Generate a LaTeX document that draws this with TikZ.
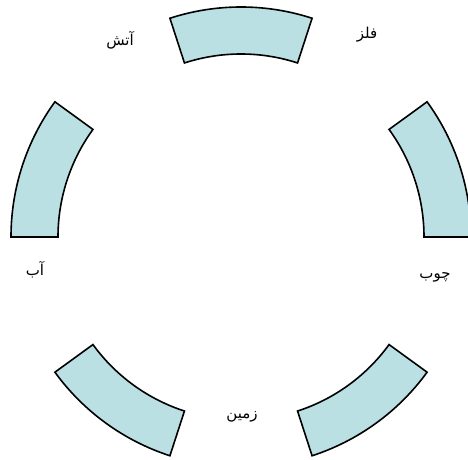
\documentclass[tikz,border=0pt]{standalone}
\usepackage{fontspec}
\newfontfamily\arabicfont[Script=Arabic]{DejaVu Sans}
\TeXXeTstate=1
\definecolor{segfill}{RGB}{187,224,227}
\tikzset{
  seg/.style={draw=black, fill=segfill, line width=1.6pt, line join=miter},
  lbl/.style={font=\arabicfont\fontsize{15}{17}\selectfont, inner sep=0pt}
}
\begin{document}
\begin{tikzpicture}[x=1pt,y=1pt]
\useasboundingbox (0,0) rectangle (468,459);
\clip (0,0) rectangle (468,459);
\begin{scope}[shift={(241,222)}]
\foreach \a in {0,72,144,216,288}{
  \pgfmathsetmacro{\b}{\a+36}
  \path[seg] (\a:230) arc[start angle=\a, end angle=\b, radius=230]
    -- (\b:183) arc[start angle=\b, end angle=\a, radius=183] -- cycle;
}
\end{scope}
\node[lbl] (felez) at (367,424) {\beginR فلز\endR};
\node[lbl] (atash) at (120,419) {\beginR آتش\endR};
\node[lbl] (ab) at (35,189) {\beginR آب\endR};
\node[lbl] (chub) at (435,182) {\beginR چوب\endR};
\node[lbl] (zamin) at (242,42) {\beginR زمین\endR};
\end{tikzpicture}
\end{document}
